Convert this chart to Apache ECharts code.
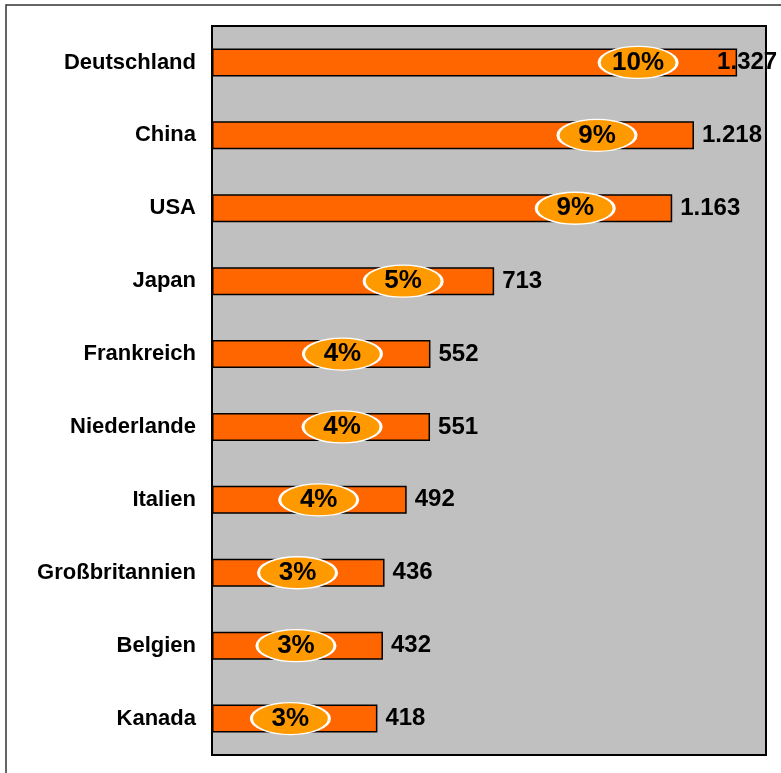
<!DOCTYPE html>
<html>
<head>
<meta charset="utf-8">
<script src="https://cdn.jsdelivr.net/npm/echarts@6/dist/echarts.min.js"></script>
<style>
  html, body { margin: 0; padding: 0; background: #fff; }
  #main-chart { width: 781px; height: 773px; }
</style>
</head>
<body>
<div id="main-chart"></div>
<script>
const countries = ['Deutschland', 'China', 'USA', 'Japan', 'Frankreich', 'Niederlande', 'Italien', 'Großbritannien', 'Belgien', 'Kanada'];
const values = [1327, 1218, 1163, 713, 552, 551, 492, 436, 432, 418];
const shares = [10, 9, 9, 5, 4, 4, 4, 3, 3, 3];

const chart = echarts.init(document.getElementById('main-chart'));

// german thousands separator, 1327 -> 1.327
function fmt(v) {
    return String(v).replace(/\B(?=(\d{3})+(?!\d))/g, '.');
}

const labelFont = 'Arial, "Liberation Sans", sans-serif';

const barData = values.map(function (v, i) {
    let item = { value: v };
    // first label gets pushed back inside the frame, like the original
    if (i === 0) item.label = { offset: [-28, 0] };
    return item;
});

// ellipse sits a bit left of the bar end (a little further on long bars)
const ellipseData = values.map(function (v, i) {
    return {
        value: [v, countries[i]],
        share: shares[i],
        symbolOffset: [-Math.round(81 + v * 0.0134), 0]
    };
});

chart.setOption({
    animation: false,
    backgroundColor: '#fff',
    graphic: [{
        type: 'rect',
        shape: { x: 6, y: 5, width: 820, height: 820 },
        style: { fill: 'none', stroke: '#333', lineWidth: 1.5 },
        z: -1
    }],
    grid: {
        left: 212, top: 26, right: 15, bottom: 18,
        show: true,
        backgroundColor: '#C0C0C0',
        borderColor: '#000',
        borderWidth: 2
    },
    xAxis: {
        type: 'value',
        min: 0,
        max: 1400,
        show: false
    },
    yAxis: {
        type: 'category',
        data: countries,
        inverse: true,
        axisLine: { show: false },
        axisTick: { show: false },
        axisLabel: {
            margin: 16,
            color: '#000',
            fontWeight: 'bold',
            fontSize: 22,
            fontFamily: labelFont
        }
    },
    series: [{
        type: 'bar',
        data: barData,
        barWidth: 28,
        itemStyle: { color: '#FF6600', borderColor: '#000', borderWidth: 1.5 },
        label: {
            show: true,
            position: 'right',
            distance: 8,
            color: '#000',
            fontWeight: 'bold',
            fontSize: 24,
            fontFamily: labelFont,
            formatter: function (p) { return fmt(p.value); }
        },
        z: 2
    }, {
        type: 'scatter',
        data: ellipseData,
        symbol: 'circle',
        symbolSize: [78, 32],
        itemStyle: { color: '#FF9900', borderColor: '#fff', borderWidth: 2, opacity: 1 },
        label: {
            show: true,
            position: 'inside',
            color: '#000',
            fontWeight: 'bold',
            fontSize: 26,
            fontFamily: labelFont,
            formatter: function (p) { return p.data.share + '%'; }
        },
        z: 3
    }]
});
</script>
</body>
</html>
